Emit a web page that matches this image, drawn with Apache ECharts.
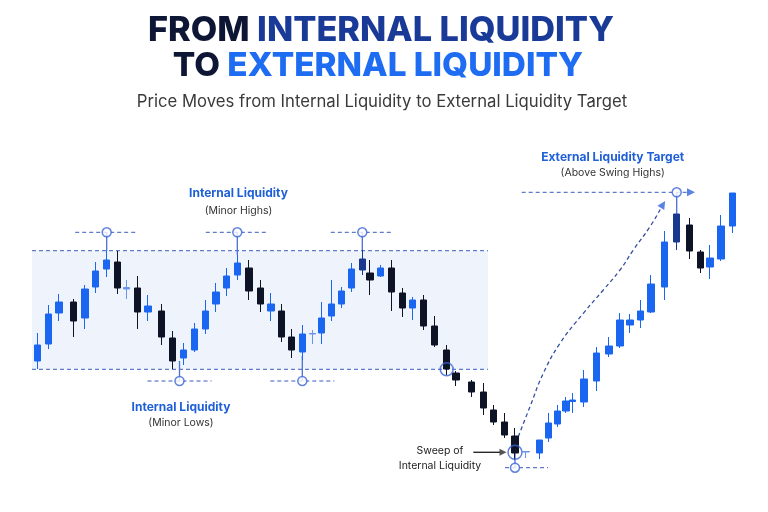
<!DOCTYPE html>
<html><head><meta charset="utf-8">
<script src="https://cdn.jsdelivr.net/npm/echarts@6/dist/echarts.min.js"></script>
<style>html,body{margin:0;padding:0;background:#fff}#c{width:768px;height:512px}</style>
</head><body><div id="c"></div>
<script>
// ---- candle data (time position, price) ----
const times = [37.7,48.3,59,73.3,85,95.7,106.7,117.3,126.7,137.3,
  148,161.7,172.7,183.3,194.3,205.7,216,226.7,237.3,249,
  260.7,271,281.7,291.7,302.3,312.3,321.7,331.7,341.7,351.7,
  362.3,370,380.7,391.7,402.3,412.7,423.3,434.3,446.7,456,
  471.7,483.3,493.3,504.3,515,526,539.3,548.3,557.3,566,
  572.7,584,596.7,609,620,630,640.7,651,664.3,676.7,
  689.3,700.7,710,721,732.7];
const opens = [139,156,187,198,182,213,231,238,211,212,
  188,189,162,142,150,171,196,212,225,232,
  212,189,189,163,148,166,167,184,196,212,
  230,227,224,232,207,192,200,174,150,127,
  118,108,90,78,64,48,47,62,76,89,
  98.5,98,119,146,154,175,180,188,213,258,
  275,248,233,241,274];
const closes = [155,186,198,179,211,229,240,212,212.5,188,
  194,163,139,150,171,189,208,224,237,209,
  196,196,163,150,166,166.5,182,196,209,231,
  241,220,232,208,192,200,174,155,131,120,
  108,92,78,65,47,48.5,60,77,89,99,
  100,121,147,154,180,180,189,216,258,286,
  249,232,242,274,307];
const lows = [131,151,179,163,171,207,223,206,201,171,
  179,155,131,135,148,166,188,204,220,200,
  188,179,158,142,140,156,156,179,192,208,
  225,205,223,189,183,180,170,153,125,114,
  103,85,75,62,40,42,41,58,73,87,
  87,93,109,143,152,167,172,187,200,250,
  241,227,221,239,267];
const highs = [167,195,206,201,215,238,249,249,220,224,
  205,196,169,157,177,200,217,232,245,240,
  220,207,196,171,175,170,198,220,213,237,
  250,240,235,240,212,203,205,184,155,129,
  120,117,95,87,72,48.5,60,87,95,103,
  107,130,153,163,187,186,200,225,269,286,
  282,250,255,285,307];
const navyCandles = [30, 59];
const lightCandles = [8, 25, 45];

// ---- annotation levels ----
const zoneX = [32, 488];
const zoneLevels = [130.7, 249.3];
const minorHighIdx = [6, 18, 30];
const minorHighLevel = 267.7;
const minorLowX = [179.5, 302.3];
const minorLowCandle = [13, 24];
const minorLowLevel = 119;
const targetIdx = 59;
const targetLevel = 307.7;
const targetLineX = [521.7, 688];
const zoneTouchIdx = 38;
const sweepIdx = 44;
const sweepLevel = 47.7;
const sweepLowLevel = 32.3;
const sweepLowLineX = [505, 548];
const sweepArrowX = [473.3, 500];
const curveX = [518.3, 530, 543.3, 560, 583.3, 603.3, 620, 633.3, 650, 661];
const curveY = [63.3, 93.3, 126.7, 156.7, 186.7, 210, 230, 250, 273.3, 292];

// ---- styling ----
const BLUE = '#1a66f0', BLACK = '#0e1326', NAVY = '#18388e', LIGHT = '#6a95ec';
const DASH = '#3a5bbf', LINK = '#4a6fd6';

const candleData = times.map((t, i) => {
  const item = { value: [t, opens[i], closes[i], lows[i], highs[i]] };
  if (navyCandles.includes(i)) item.itemStyle = { color: NAVY, color0: NAVY, borderColor: NAVY, borderColor0: NAVY };
  if (lightCandles.includes(i)) item.itemStyle = { color: LIGHT, color0: LIGHT, borderColor: LIGHT, borderColor0: LIGHT };
  return item;
});

function seg(pts, color, dashed, z, width) {
  return { type: 'line', data: pts, symbol: 'none', silent: true, z: z, animation: false,
    lineStyle: { color: color, width: width || 1, type: dashed ? [4, 3] : 'solid' } };
}

const series = [];
// shaded zone
series.push({ type: 'line', data: [], z: 0, silent: true,
  markArea: { silent: true, itemStyle: { color: '#eff4fc' },
    data: [[{ coord: [zoneX[0], zoneLevels[1]] }, { coord: [zoneX[1], zoneLevels[0]] }]] } });
// zone dashed boundaries
zoneLevels.forEach(l => series.push(seg([[zoneX[0], l], [zoneX[1], l]], DASH, true, 1)));
// minor highs
minorHighIdx.forEach(i => {
  series.push(seg([[times[i] - 31.5, minorHighLevel], [times[i] + 31.5, minorHighLevel]], DASH, true, 1));
  series.push(seg([[times[i], minorHighLevel], [times[i], highs[i]]], LINK, false, 2, 1.3));
});
// minor lows
minorLowX.forEach((x, k) => {
  series.push(seg([[x - 32, minorLowLevel], [x + 32, minorLowLevel]], DASH, true, 1));
  series.push(seg([[x, minorLowLevel], [x, lows[minorLowCandle[k]] + 4]], LINK, false, 2, 1.3));
});
// target
series.push(seg([[targetLineX[0], targetLevel], [targetLineX[1], targetLevel]], DASH, true, 1));
series.push(seg([[times[targetIdx], targetLevel], [times[targetIdx], highs[targetIdx]]], LINK, false, 2, 1.3));
// sweep
series.push(seg([[sweepLowLineX[0], sweepLowLevel], [sweepLowLineX[1], sweepLowLevel]], DASH, true, 1));
series.push(seg([[times[sweepIdx], sweepLowLevel], [times[sweepIdx], sweepLevel]], LINK, false, 2, 1.3));
series.push(seg([[sweepArrowX[0], sweepLevel], [sweepArrowX[1], sweepLevel]], '#2a2a2a', false, 2, 1.4));
// curved dashed arrow
series.push(Object.assign(seg(curveX.map((x, i) => [x, curveY[i]]), '#33509f', true, 2, 1.3), { smooth: 0.45 }));

// candles
series.push({ type: 'candlestick', data: candleData, barWidth: 7, z: 3, silent: true, animation: false,
  itemStyle: { color: BLUE, color0: BLACK, borderColor: BLUE, borderColor0: BLACK, borderWidth: 1 } });

// small white circles
const smallCircles = [];
minorHighIdx.forEach(i => smallCircles.push([times[i], minorHighLevel]));
minorLowX.forEach(x => smallCircles.push([x, minorLowLevel]));
smallCircles.push([times[targetIdx], targetLevel]);
smallCircles.push([times[sweepIdx], sweepLowLevel]);
series.push({ type: 'scatter', data: smallCircles, symbol: 'circle', symbolSize: 9, z: 5, silent: true, animation: false,
  itemStyle: { color: '#ffffff', borderColor: '#3a64d4', borderWidth: 1.5 } });
// rings
series.push({ type: 'scatter', z: 5, silent: true, animation: false, symbol: 'circle',
  data: [{ value: [times[zoneTouchIdx], zoneLevels[0]], symbolSize: 13 }, { value: [times[sweepIdx], sweepLevel], symbolSize: 14 }],
  itemStyle: { color: 'rgba(0,0,0,0)', borderColor: '#3a64d4', borderWidth: 1.5 } });
// arrowheads
series.push({ type: 'scatter', z: 5, silent: true, animation: false, symbol: 'triangle', symbolSize: 8,
  data: [
    { value: [curveX[curveX.length - 1] + 2, curveY[curveY.length - 1] + 3.5], symbolRotate: -32, itemStyle: { color: '#2f63df' } },
    { value: [targetLineX[1] + 3, targetLevel], symbolRotate: -90, itemStyle: { color: '#2f63df' } },
    { value: [sweepArrowX[1] + 3, sweepLevel], symbolRotate: -90, symbolSize: 7, itemStyle: { color: '#2a2a2a' } }
  ] });

function txt(x, y, text, font, fill) {
  return { type: 'text', x: x, y: y, silent: true, z: 10,
    style: { text: text, font: font, fill: fill, align: 'center', verticalAlign: 'middle' } };
}
const TF1 = '800 34.3px Inter';
const TF2 = '800 33.3px Inter';
const graphics = [
  { type: 'text', x: 381, y: 30.5, silent: true, z: 10,
    style: { text: '{a|FROM} {b|INTERNAL LIQUIDITY}', font: TF1, fill: '#0e1635', align: 'center', verticalAlign: 'middle',
      rich: { a: { font: TF1, fill: '#0e1635' }, b: { font: TF1, fill: '#1a3a98' } } } },
  { type: 'text', x: 378, y: 66, silent: true, z: 10,
    style: { text: '{a|TO} {c|EXTERNAL LIQUIDITY}', font: TF2, fill: '#0e1635', align: 'center', verticalAlign: 'middle',
      rich: { a: { font: TF2, fill: '#0e1635' }, c: { font: TF2, fill: '#1d6cf2' } } } },
  txt(382, 101.5, 'Price Moves from Internal Liquidity to External Liquidity Target', '400 16.7px Inter', '#3a3a3a'),
  txt(238.5, 193.5, 'Internal Liquidity', '700 12px Inter', '#1f5fd8'),
  txt(238.5, 211, '(Minor Highs)', '400 10.5px Inter', '#333333'),
  txt(181, 407, 'Internal Liquidity', '700 12px Inter', '#1f5fd8'),
  txt(181, 423, '(Minor Lows)', '400 10.5px Inter', '#333333'),
  txt(612.7, 157, 'External Liquidity Target', '700 12px Inter', '#1f5fd8'),
  txt(612.7, 173, '(Above Swing Highs)', '400 10.5px Inter', '#333333'),
  txt(440, 451, 'Sweep of', '400 10.5px Inter', '#222222'),
  txt(440, 466, 'Internal Liquidity', '400 10.5px Inter', '#222222')
];

const chart = echarts.init(document.getElementById('c'), null, { renderer: 'canvas' });
chart.setOption({
  backgroundColor: '#ffffff',
  animation: false,
  grid: { left: 0, right: 0, top: 0, bottom: 0, containLabel: false },
  xAxis: { type: 'value', min: 0, max: 768, show: false },
  yAxis: { type: 'value', min: -12, max: 500, show: false },
  series: series,
  graphic: graphics
});
</script></body></html>
